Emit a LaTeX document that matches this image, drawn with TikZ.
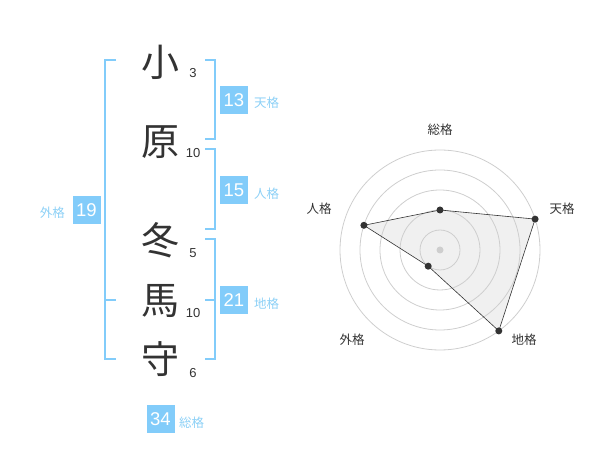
\documentclass[tikz,border=0pt]{standalone}
\usepackage{fontspec}
\setmainfont{Liberation Sans}
\newfontfamily\jpfont{Noto Sans CJK JP}
\usetikzlibrary{arrows,shapes}
\definecolor{kakuBlue}{RGB}{130,204,250}
\definecolor{kakuText}{RGB}{140,208,246}
\definecolor{ink}{RGB}{51,51,51}
\definecolor{ringGray}{RGB}{206,206,206}
\definecolor{areaGray}{RGB}{240,240,240}
\newcommand{\kanjifont}{\jpfont\fontsize{38bp}{40bp}\selectfont}
\newcommand{\kakufont}{\jpfont\fontsize{12.5bp}{14bp}\selectfont}

\begin{document}
\begin{tikzpicture}[>=latex]
      \tikzstyle{every node}=[inner sep=0pt]
      \tikzstyle{moji}=[text=ink,font=\kanjifont]
      \tikzstyle{kakusu}=[text=ink,font=\fontsize{13bp}{15bp}\selectfont]
      \tikzstyle{kakubox}=[fill=kakuBlue,text=white,minimum width=28bp,minimum height=28bp,font=\fontsize{18.5bp}{20bp}\selectfont]
      \tikzstyle{kakuname}=[text=kakuText,font=\kakufont]
      \tikzstyle{axisname}=[text=ink,font=\kakufont]
      \tikzstyle{kakko}=[draw=kakuBlue,line width=2bp]
      \tikzstyle{valdot}=[circle,fill=ink,minimum size=7bp]
      %%
  \useasboundingbox (0bp,0bp) rectangle (600bp,470bp);
  %% name
  \node (m1) at (160bp,408bp) [moji] {小};
  \node (m2) at (160bp,328bp) [moji] {原};
  \node (m3) at (160bp,230bp) [moji] {冬};
  \node (m4) at (160bp,169bp) [moji] {馬};
  \node (m5) at (160bp,111bp) [moji] {守};
  \node (s1) at (193bp,397bp) [kakusu] {3};
  \node (s2) at (193bp,317bp) [kakusu] {10};
  \node (s3) at (193bp,217bp) [kakusu] {5};
  \node (s4) at (193bp,157bp) [kakusu] {10};
  \node (s5) at (193bp,97bp) [kakusu] {6};
  %% brackets
  \draw [kakko] (116bp,410bp) -- (105bp,410bp) -- (105bp,111bp) -- (116bp,111bp);
  \draw [kakko] (105bp,170bp) -- (116bp,170bp);
  \draw [kakko] (205bp,410bp) -- (215bp,410bp) -- (215bp,331bp) -- (205bp,331bp);
  \draw [kakko] (205bp,321bp) -- (215bp,321bp) -- (215bp,241bp) -- (205bp,241bp);
  \draw [kakko] (205bp,231bp) -- (215bp,231bp) -- (215bp,111bp) -- (205bp,111bp);
  \draw [kakko] (205bp,170bp) -- (215bp,170bp);
  %% scores
  \node (ten) at (234bp,370bp) [kakubox] {13};
  \node (ten_l) at (254bp,367bp) [kakuname,anchor=west] {天格};
  \node (jin) at (234bp,280bp) [kakubox] {15};
  \node (jin_l) at (254bp,276bp) [kakuname,anchor=west] {人格};
  \node (gai) at (86.5bp,260bp) [kakubox] {19};
  \node (gai_l) at (65bp,257bp) [kakuname,anchor=east] {外格};
  \node (chi) at (234bp,170bp) [kakubox] {21};
  \node (chi_l) at (254bp,166bp) [kakuname,anchor=west] {地格};
  \node (sou) at (160.5bp,51bp) [kakubox] {34};
  \node (sou_l) at (179bp,47bp) [kakuname,anchor=west] {総格};
  %% radar
  \coordinate (ctr) at (440bp,220bp);
  \coordinate (v_sou) at (440bp,260bp);
  \coordinate (v_ten) at (535.1bp,250.9bp);
  \coordinate (v_chi) at (498.8bp,139.1bp);
  \coordinate (v_gai) at (428.2bp,203.8bp);
  \coordinate (v_jin) at (363.9bp,244.7bp);
  \fill [areaGray] (v_sou) -- (v_ten) -- (v_chi) -- (v_gai) -- (v_jin) -- cycle;
  \foreach \r in {20,40,60,80,100}
    \draw [ringGray,line width=.8bp] (ctr) circle (\r bp);
  \draw [ink,line width=.6bp] (v_sou) -- (v_ten) -- (v_chi) -- (v_gai) -- (v_jin) -- cycle;
  \node (c0) at (ctr) [circle,fill=ringGray,minimum size=7bp] {};
  \node (d_sou) at (v_sou) [valdot] {};
  \node (d_ten) at (v_ten) [valdot] {};
  \node (d_chi) at (v_chi) [valdot] {};
  \node (d_gai) at (v_gai) [valdot] {};
  \node (d_jin) at (v_jin) [valdot] {};
  \node (a_sou) at (440bp,340bp) [axisname] {総格};
  \node (a_ten) at (562bp,261bp) [axisname] {天格};
  \node (a_chi) at (524bp,130bp) [axisname] {地格};
  \node (a_gai) at (352bp,130bp) [axisname] {外格};
  \node (a_jin) at (319bp,261bp) [axisname] {人格};
%
\end{tikzpicture}
\end{document}
